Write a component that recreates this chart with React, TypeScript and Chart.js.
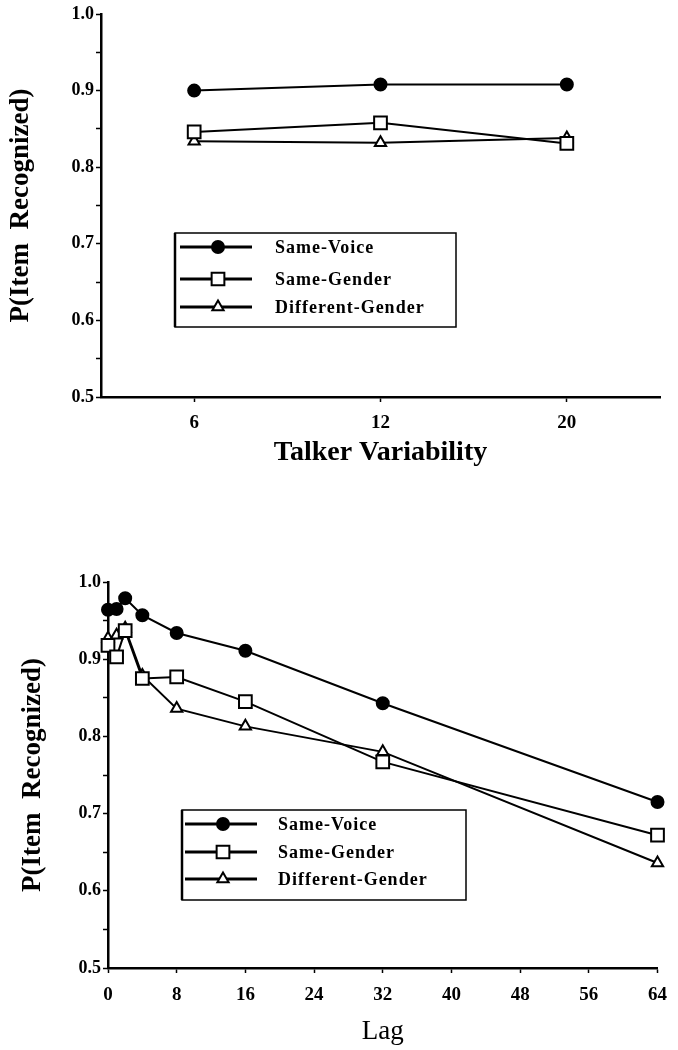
import React, { useEffect, useRef } from 'react';
import { Chart, registerables } from 'chart.js';

Chart.register(...registerables);

// ---------- data ----------
const seriesNames = ['Same-Voice', 'Same-Gender', 'Different-Gender'];

const talkerLabels = ['6', '12', '20'];
const talkerSameVoice = [0.900, 0.908, 0.908];
const talkerSameGender = [0.846, 0.858, 0.831];
const talkerDiffGender = [0.834, 0.832, 0.838];

const lags = [0, 1, 2, 4, 8, 16, 32, 64];
const lagSameVoice = [0.964, 0.965, 0.979, 0.957, 0.934, 0.911, 0.843, 0.715];
const lagSameGender = [0.918, 0.903, 0.937, 0.875, 0.877, 0.845, 0.767, 0.672];
const lagDiffGender = [0.927, 0.931, 0.940, 0.879, 0.836, 0.813, 0.780, 0.636];

const yTitle = 'P(Item  Recognized)';
const topXTitle = 'Talker Variability';
const bottomXTitle = 'Lag';

const SERIF = '"Liberation Serif", "Times New Roman", serif';

const seriesStyles = [
  { pointStyle: 'circle', pointRadius: 6, pointBackgroundColor: '#000' },
  { pointStyle: 'rect', pointRadius: 9, pointBackgroundColor: '#fff' },
  { pointStyle: 'triangle', pointRadius: 6.5, pointBackgroundColor: '#fff' },
];

function makeDatasets(values: number[][], xs?: number[]) {
  return values.map((vals, i) => ({
    label: seriesNames[i],
    data: xs ? vals.map((v, j) => ({ x: xs[j], y: v })) : vals,
    borderColor: '#000',
    borderWidth: 2,
    pointBorderColor: '#000',
    pointBorderWidth: 2,
    clip: false as any,
    ...seriesStyles[i],
  }));
}

function drawMarker(ctx: CanvasRenderingContext2D, style: string, x: number, y: number, r: number, fill: string) {
  ctx.beginPath();
  if (style === 'circle') {
    ctx.arc(x, y, r, 0, Math.PI * 2);
  } else if (style === 'rect') {
    const s = r * Math.SQRT1_2;
    ctx.rect(x - s, y - s, 2 * s, 2 * s);
  } else {
    let rad = 0;
    const t = (2 * Math.PI) / 3;
    ctx.moveTo(x + Math.sin(rad) * r, y - Math.cos(rad) * r);
    rad += t;
    ctx.lineTo(x + Math.sin(rad) * r, y - Math.cos(rad) * r);
    rad += t;
    ctx.lineTo(x + Math.sin(rad) * r, y - Math.cos(rad) * r);
    ctx.closePath();
  }
  ctx.fillStyle = fill;
  ctx.fill();
  ctx.lineWidth = 2;
  ctx.strokeStyle = '#000';
  ctx.stroke();
}

type LegendGeom = { x: number; y: number; w: number; h: number; rows: number[]; lx0: number; lx1: number; mx: number; tx: number };

function boxLegend(g: LegendGeom) {
  return {
    id: 'boxLegend',
    afterDatasetsDraw(chart: any) {
      const ctx: CanvasRenderingContext2D = chart.ctx;
      ctx.save();
      ctx.fillStyle = '#fff';
      ctx.fillRect(g.x, g.y, g.w, g.h);
      ctx.strokeStyle = '#000';
      ctx.lineWidth = 1.5;
      ctx.strokeRect(g.x, g.y, g.w, g.h);
      ctx.lineWidth = 2.5;
      ctx.beginPath();
      ctx.moveTo(g.x, g.y);
      ctx.lineTo(g.x, g.y + g.h);
      ctx.stroke();
      chart.data.datasets.forEach((ds: any, i: number) => {
        const yy = g.rows[i];
        ctx.beginPath();
        ctx.lineWidth = 3;
        ctx.strokeStyle = '#000';
        ctx.moveTo(g.lx0, yy);
        ctx.lineTo(g.lx1, yy);
        ctx.stroke();
        drawMarker(ctx, ds.pointStyle, g.mx, yy, ds.pointRadius, ds.pointBackgroundColor);
        ctx.fillStyle = '#000';
        ctx.font = `bold 18px ${SERIF}`;
        (ctx as any).letterSpacing = '1px';
        ctx.textBaseline = 'middle';
        ctx.textAlign = 'left';
        ctx.fillText(ds.label, g.tx, yy + 1);
        (ctx as any).letterSpacing = '0px';
      });
      ctx.restore();
    },
  };
}

function yAxis(width: number, titlePad: number) {
  return {
    type: 'linear' as const,
    min: 0.5,
    max: 1.0,
    afterFit: (s: any) => {
      s.width = width;
    },
    border: { display: true, color: '#000', width: 2.5 },
    grid: { display: true, drawOnChartArea: false, drawTicks: true, tickLength: 5, tickColor: '#000', tickWidth: 1.5 },
    ticks: {
      stepSize: 0.05,
      autoSkip: false,
      padding: 2,
      color: '#000',
      font: { family: SERIF, size: 18, weight: 'bold' as const },
      callback: (v: any) => {
        const n = Number(v);
        return Math.abs(n * 10 - Math.round(n * 10)) < 1e-6 ? n.toFixed(1) : '';
      },
    },
    title: {
      display: true,
      text: yTitle,
      color: '#000',
      padding: { top: titlePad, bottom: 0 },
      font: { family: SERIF, size: 27, weight: 'bold' as const },
    },
  };
}

function TopChart() {
  const ref = useRef<HTMLCanvasElement>(null);
  useEffect(() => {
    const chart = new Chart(ref.current!, {
      type: 'line',
      data: {
        labels: talkerLabels,
        datasets: makeDatasets([talkerSameVoice, talkerSameGender, talkerDiffGender]) as any,
      },
      options: {
        responsive: false,
        animation: false,
        layout: { padding: { top: 14, right: 18, left: 0, bottom: 0 } },
        plugins: { legend: { display: false }, tooltip: { enabled: false } },
        scales: {
          x: {
            type: 'category',
            offset: true,
            afterFit: (s: any) => {
              s.height = 73;
            },
            border: { display: true, color: '#000', width: 2.5 },
            grid: { display: true, drawOnChartArea: false, drawTicks: true, tickLength: 5, tickColor: '#000', tickWidth: 1.5, offset: false },
            ticks: {
              padding: 10,
              color: '#000',
              font: { family: SERIF, size: 19, weight: 'bold' },
            },
            title: {
              display: true,
              text: topXTitle,
              color: '#000',
              padding: { top: 0, bottom: 0 },
              font: { family: SERIF, size: 28, weight: 'bold' },
            },
          },
          y: yAxis(101, 5) as any,
        },
      },
      plugins: [boxLegend({ x: 175, y: 233, w: 281, h: 94, rows: [247, 279, 307], lx0: 180, lx1: 252, mx: 218, tx: 275 })],
    });
    return () => chart.destroy();
  }, []);
  return <canvas ref={ref} width={678} height={470} style={{ display: 'block' }} />;
}

function BottomChart() {
  const ref = useRef<HTMLCanvasElement>(null);
  useEffect(() => {
    const chart = new Chart(ref.current!, {
      type: 'line',
      data: {
        datasets: makeDatasets([lagSameVoice, lagSameGender, lagDiffGender], lags) as any,
      },
      options: {
        responsive: false,
        animation: false,
        layout: { padding: { top: 112, right: 13, left: 0, bottom: 0 } },
        plugins: { legend: { display: false }, tooltip: { enabled: false } },
        scales: {
          x: {
            type: 'linear',
            min: 0,
            max: 64,
            afterFit: (s: any) => {
              s.height = 82;
            },
            border: { display: true, color: '#000', width: 2.5 },
            grid: { display: true, drawOnChartArea: false, drawTicks: true, tickLength: 5, tickColor: '#000', tickWidth: 1.5 },
            ticks: {
              stepSize: 8,
              autoSkip: false,
              maxRotation: 0,
              padding: 11,
              color: '#000',
              font: { family: SERIF, size: 19, weight: 'bold' },
            },
            title: {
              display: true,
              text: bottomXTitle,
              color: '#000',
              padding: { top: 0, bottom: 2 },
              font: { family: SERIF, size: 27 },
            },
          },
          y: yAxis(108, 17) as any,
        },
      },
      plugins: [boxLegend({ x: 182, y: 340, w: 284, h: 90, rows: [354, 382, 409], lx0: 185, lx1: 257, mx: 223, tx: 278 })],
    });
    return () => chart.destroy();
  }, []);
  return <canvas ref={ref} width={678} height={580} style={{ display: 'block' }} />;
}

export default function App() {
  return (
    <div style={{ position: 'absolute', left: 0, top: 0, width: 678, height: 1050, background: '#fff' }}>
      <TopChart />
      <BottomChart />
    </div>
  );
}
